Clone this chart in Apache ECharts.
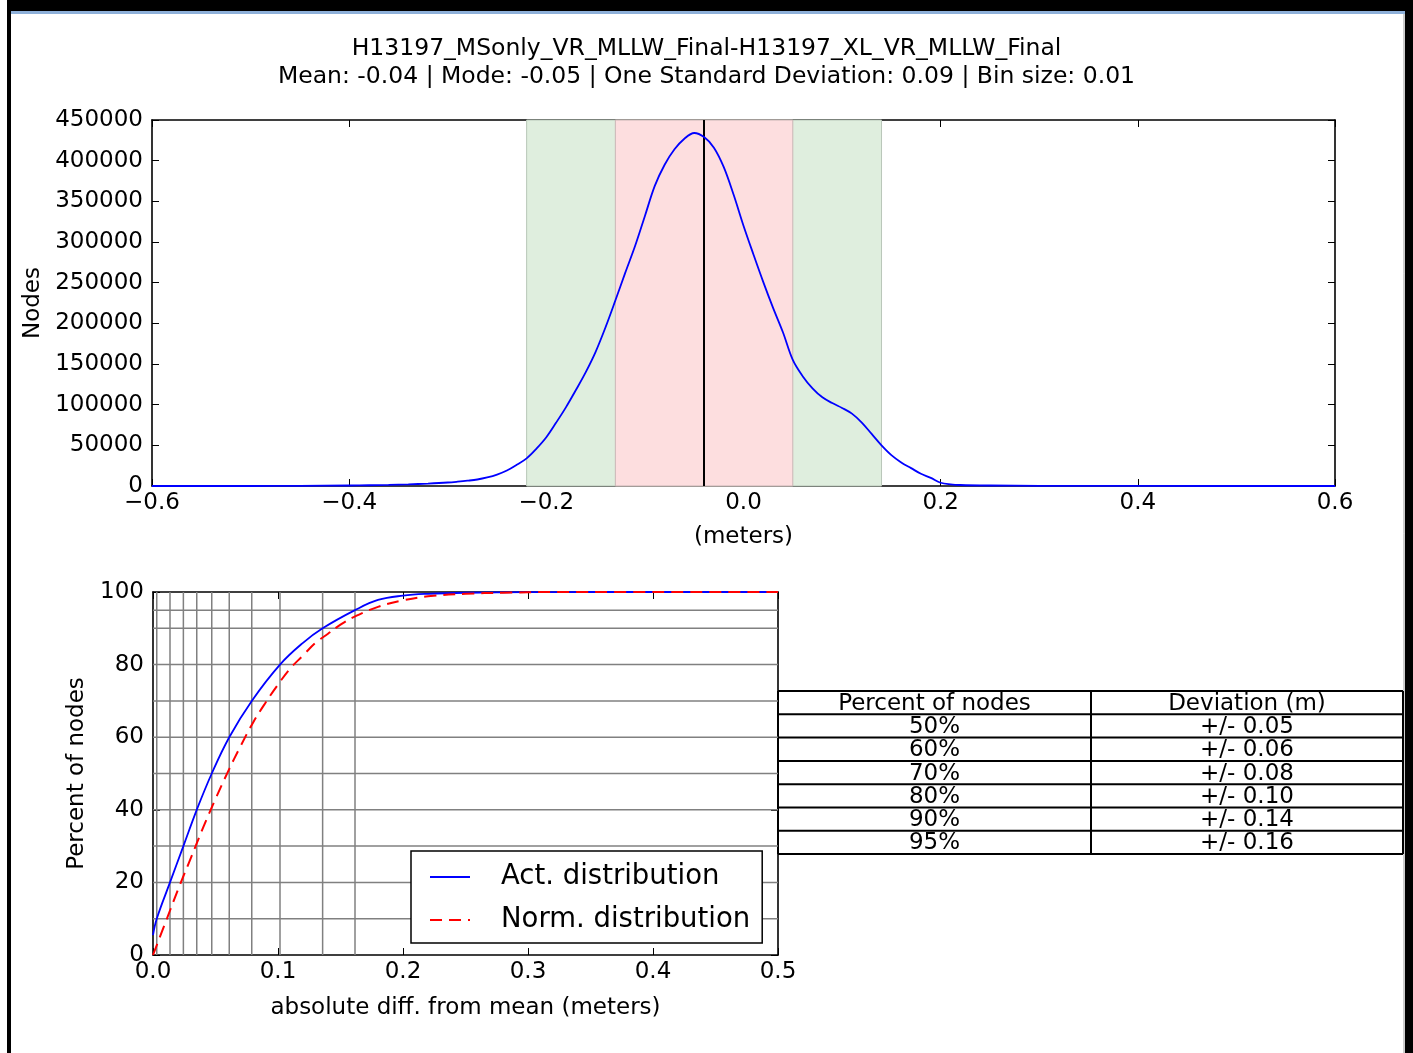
<!DOCTYPE html>
<html>
<head>
<meta charset="utf-8">
<script src="https://cdn.jsdelivr.net/npm/echarts@6/dist/echarts.min.js"></script>
<style>
html,body{margin:0;padding:0;background:#fff;}
#chart{width:1413px;height:1053px;}
</style>
</head>
<body>
<div id="chart"></div>
<script>
// ---------- data ----------
const titleLine1 = 'H13197_MSonly_VR_MLLW_Final-H13197_XL_VR_MLLW_Final';
const titleLine2 = 'Mean: -0.04 | Mode: -0.05 | One Standard Deviation: 0.09 | Bin size: 0.01';

// histogram (nodes per 0.01 m bin)
const histX = [-0.60,-0.50,-0.45,-0.40,-0.38,-0.36,-0.34,-0.32,-0.30,-0.29,-0.28,-0.27,-0.26,-0.25,-0.24,-0.23,-0.22,-0.21,-0.20,-0.19,-0.18,-0.17,-0.16,-0.15,-0.14,-0.13,-0.12,-0.11,-0.10,-0.09,-0.08,-0.07,-0.06,-0.05,-0.04,-0.03,-0.02,-0.01,0.00,0.01,0.02,0.03,0.04,0.05,0.06,0.07,0.08,0.09,0.10,0.11,0.12,0.13,0.14,0.15,0.16,0.17,0.18,0.19,0.20,0.21,0.22,0.25,0.30,0.40,0.60];
const histY = [0,0,200,600,900,1300,2000,3000,4300,5300,6500,8000,10500,14000,19000,26000,34000,46000,60000,78000,97000,118000,140000,165000,195000,228000,262000,295000,332000,369000,395000,414000,427000,434000,429000,416000,392000,358000,320000,285000,251000,219000,189000,155000,135000,120000,109000,102000,96000,89000,78000,64000,50000,38000,29000,22000,15000,10000,4000,2000,1200,600,200,50,0];

const meanValue = -0.04;
const band1 = [-0.13, 0.05];   // mean +/- 1 sd
const band2 = [-0.22, 0.14];   // mean +/- 2 sd

// cumulative distributions
const actX = [0,0.003,0.0136,0.0243,0.035,0.047,0.061,0.079,0.1016,0.12,0.1357,0.1616,0.18,0.20,0.22,0.25,0.30,0.35,0.50];
const actY = [5.5,10,20,30,40,50,60,70,80,86,90,95,97.8,99,99.5,99.8,99.95,100,100];
const normX = [0,0.01,0.02,0.03,0.04,0.05,0.06,0.07,0.08,0.09,0.10,0.11,0.12,0.13,0.14,0.15,0.16,0.18,0.20,0.22,0.25,0.28,0.32,0.50];
const normY = [0,9,18,26.5,35,43,50.5,57.5,64,69.5,74.5,79,82.5,86,88.5,91,93,95.9,97.7,98.8,99.5,99.8,100,100];

// percentile grid (deviation at which the actual curve reaches each percent)
const gridPercents = [10,20,30,40,50,60,70,80,90,95];
const gridDeviations = [0.003,0.0136,0.0243,0.035,0.047,0.061,0.079,0.1016,0.1357,0.1616];

// table
const tableHeader = ['Percent of nodes','Deviation (m)'];
const tablePercents = ['50%','60%','70%','80%','90%','95%'];
const tableDeviations = ['+/- 0.05','+/- 0.06','+/- 0.08','+/- 0.10','+/- 0.14','+/- 0.16'];

// ---------- chart ----------
const FONT = 'DejaVu Sans';
const FS = 23;
const pairs = (xs, ys) => xs.map((x, i) => [x, ys[i]]);
const minus = v => (v < 0 ? '\u2212' : '') + Math.abs(v).toFixed(1);

const axisLineStyle = {show: true, onZero: false, lineStyle: {color: '#000', width: 1.6}};
const tickIn = {show: true, inside: true, length: 7, lineStyle: {color: '#000', width: 1}};
const lbl = {color: '#000', fontSize: FS, fontFamily: FONT};

const chart = echarts.init(document.getElementById('chart'), null, {renderer: 'canvas'});

// table graphic
const tLeft = 778, tMid = 1091, tRight = 1403, tTop = 691, rowH = 23.3;
const tableEls = [];
const nRows = tablePercents.length + 1;
for (let i = 0; i <= nRows; i++) {
  tableEls.push({type: 'line', shape: {x1: tLeft, y1: tTop + i * rowH, x2: tRight, y2: tTop + i * rowH}, style: {stroke: '#000', lineWidth: 2}});
}
[tLeft, tMid, tRight].forEach(x => tableEls.push({type: 'line', shape: {x1: x, y1: tTop, x2: x, y2: tTop + nRows * rowH}, style: {stroke: '#000', lineWidth: 2}}));
const rowsText = [tableHeader].concat(tablePercents.map((p, i) => [p, tableDeviations[i]]));
rowsText.forEach((r, i) => {
  const cy = tTop + i * rowH + rowH / 2 + 1;
  tableEls.push({type: 'text', x: (tLeft + tMid) / 2, y: cy, style: {text: r[0], fill: '#000', font: FS + 'px "DejaVu Sans"', textAlign: 'center', textVerticalAlign: 'middle'}});
  tableEls.push({type: 'text', x: (tMid + tRight) / 2, y: cy, style: {text: r[1], fill: '#000', font: FS + 'px "DejaVu Sans"', textAlign: 'center', textVerticalAlign: 'middle'}});
});

// frame
const frameEls = [
  {type: 'rect', shape: {x: 7, y: 0, width: 1406, height: 11}, style: {fill: '#000'}},
  {type: 'rect', shape: {x: 7, y: 0, width: 4, height: 1053}, style: {fill: '#000'}},
  {type: 'rect', shape: {x: 1405, y: 0, width: 8, height: 1053}, style: {fill: '#000'}},
  {type: 'rect', shape: {x: 11, y: 11, width: 1394, height: 3}, style: {fill: '#8eb0d9'}},
  {type: 'line', shape: {x1: 1404, y1: 14, x2: 1404, y2: 1053}, style: {stroke: '#999', lineWidth: 1}}
];

function vRule(params, api) {
  const x = api.value(0);
  const p1 = api.coord([x, 0]);
  const p2 = api.coord([x, 100]);
  return {type: 'line', shape: {x1: p1[0], y1: p1[1], x2: p2[0], y2: p2[1]}, style: {stroke: '#808080', lineWidth: 1.5}};
}
function hRule(params, api) {
  const y = api.value(0);
  const p1 = api.coord([0, y]);
  const p2 = api.coord([0.5, y]);
  return {type: 'line', shape: {x1: p1[0], y1: p1[1], x2: p2[0], y2: p2[1]}, style: {stroke: '#808080', lineWidth: 1.5}};
}

const option = {
  backgroundColor: '#fff',
  animation: false,
  title: {
    text: titleLine1 + '\n' + titleLine2,
    left: 'center', top: 30,
    textStyle: {fontSize: 23.5, fontWeight: 'normal', color: '#000', fontFamily: FONT, lineHeight: 28}
  },
  legend: {
    data: ['Act. distribution', 'Norm. distribution'],
    orient: 'vertical', left: 411, top: 851,
    padding: [12, 12, 9, 18], itemGap: 15, itemWidth: 40, itemHeight: 16,
    borderColor: '#000', borderWidth: 1.5, borderRadius: 0, backgroundColor: '#fff',
    itemStyle: {color: 'rgba(0,0,0,0)', opacity: 0, borderWidth: 0},
    textStyle: {fontSize: 27.5, color: '#000', fontFamily: FONT, padding: [0, 0, 0, 26]}
  },
  grid: [
    {left: 152, top: 120, width: 1183, height: 366, containLabel: false},
    {left: 153, top: 592, width: 625, height: 363, containLabel: false}
  ],
  xAxis: [
    {gridIndex: 0, type: 'value', min: -0.6, max: 0.6, interval: 0.2, position: 'bottom',
     axisLine: axisLineStyle, axisTick: tickIn, splitLine: {show: false},
     axisLabel: Object.assign({margin: 6, formatter: minus}, lbl),
     name: '(meters)', nameLocation: 'middle', nameGap: 40, nameTextStyle: lbl},
    {gridIndex: 0, type: 'value', min: -0.6, max: 0.6, interval: 0.2, position: 'top',
     axisLine: axisLineStyle, axisTick: tickIn, splitLine: {show: false}, axisLabel: {show: false}},
    {gridIndex: 1, type: 'value', min: 0, max: 0.5, interval: 0.1, position: 'bottom',
     axisLine: axisLineStyle, axisTick: tickIn, splitLine: {show: false},
     axisLabel: Object.assign({margin: 6, formatter: v => v.toFixed(1)}, lbl),
     name: 'absolute diff. from mean (meters)', nameLocation: 'middle', nameGap: 42, nameTextStyle: lbl},
    {gridIndex: 1, type: 'value', min: 0, max: 0.5, interval: 0.1, position: 'top',
     axisLine: axisLineStyle, axisTick: tickIn, splitLine: {show: false}, axisLabel: {show: false}}
  ],
  yAxis: [
    {gridIndex: 0, type: 'value', min: 0, max: 450000, interval: 50000, position: 'left',
     axisLine: axisLineStyle, axisTick: tickIn, splitLine: {show: false},
     axisLabel: Object.assign({margin: 9, formatter: v => String(v)}, lbl),
     name: 'Nodes', nameLocation: 'middle', nameGap: 97, nameTextStyle: lbl},
    {gridIndex: 0, type: 'value', min: 0, max: 450000, interval: 50000, position: 'right',
     axisLine: axisLineStyle, axisTick: tickIn, splitLine: {show: false}, axisLabel: {show: false}},
    {gridIndex: 1, type: 'value', min: 0, max: 100, interval: 20, position: 'left',
     axisLine: axisLineStyle, axisTick: tickIn, splitLine: {show: false},
     axisLabel: Object.assign({margin: 9, formatter: v => String(v)}, lbl),
     name: 'Percent of nodes', nameLocation: 'middle', nameGap: 64, nameTextStyle: lbl},
    {gridIndex: 1, type: 'value', min: 0, max: 100, interval: 20, position: 'right',
     axisLine: axisLineStyle, axisTick: tickIn, splitLine: {show: false}, axisLabel: {show: false}}
  ],
  series: [
    {
      name: 'bands', type: 'line', xAxisIndex: 0, yAxisIndex: 0, data: [], z: 1, silent: true,
      markArea: {
        silent: true,
        data: [
          [{xAxis: band2[0], itemStyle: {color: '#dfeede', borderColor: '#b9c7b9', borderWidth: 1}}, {xAxis: band2[1]}],
          [{xAxis: band1[0], itemStyle: {color: '#fddedf', borderColor: '#c9b5b5', borderWidth: 1}}, {xAxis: band1[1]}]
        ]
      },
      markLine: {
        silent: true, symbol: ['none', 'none'], label: {show: false},
        lineStyle: {color: '#000', width: 2, type: 'solid'},
        data: [{xAxis: meanValue}]
      }
    },
    {
      name: 'Histogram', type: 'line', xAxisIndex: 0, yAxisIndex: 0, z: 5,
      data: pairs(histX, histY), symbol: 'none', smooth: 0.35,
      lineStyle: {color: '#0000ff', width: 1.8}
    },
    {
      name: 'pctRulesV', type: 'custom', xAxisIndex: 2, yAxisIndex: 2, z: 1, silent: true,
      data: gridDeviations.map(v => [v]), encode: {x: 0}, renderItem: vRule
    },
    {
      name: 'pctRulesH', type: 'custom', xAxisIndex: 2, yAxisIndex: 2, z: 1, silent: true,
      data: gridPercents.map(v => [v]), encode: {y: 0}, renderItem: hRule
    },
    {
      name: 'Act. distribution', type: 'line', xAxisIndex: 2, yAxisIndex: 2, z: 5,
      data: pairs(actX, actY), symbol: 'none', smooth: 0.4,
      lineStyle: {color: '#0000ff', width: 1.8}, itemStyle: {color: '#0000ff'}
    },
    {
      name: 'Norm. distribution', type: 'line', xAxisIndex: 2, yAxisIndex: 2, z: 5,
      data: pairs(normX, normY), symbol: 'none', smooth: 0.4,
      lineStyle: {color: '#ff0000', width: 2, type: [12, 7]}, itemStyle: {color: '#ff0000'}
    }
  ],
  graphic: {elements: frameEls.concat(tableEls)}
};
chart.setOption(option);
</script>
</body>
</html>
